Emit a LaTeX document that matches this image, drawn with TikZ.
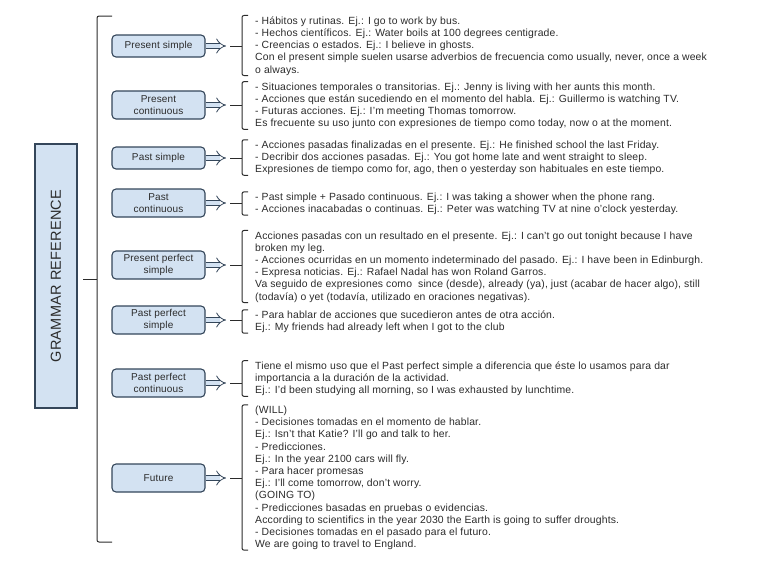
\documentclass[tikz,border=0pt]{standalone}
\usepackage{fontspec}
\setmainfont{Liberation Sans}[LetterSpace=1.5]
\usepackage{xcolor}
\usetikzlibrary{arrows.meta,positioning,calc}

\definecolor{boxblue}{HTML}{D3E2F2}
\definecolor{edgegray}{HTML}{34465A}
\definecolor{inkgray}{HTML}{2B2B2B}

\begin{document}
\begin{tikzpicture}[x=1pt,y=-1pt,
    tense/.style={draw=edgegray, fill=boxblue, rounded corners=4pt, line width=1.1pt,
      minimum width=93pt, minimum height=28pt, align=center, inner sep=1pt,
      text=inkgray, font=\fontsize{10}{12}\selectfont},
    notes/.style={anchor=west, align=left, inner sep=0pt, text=inkgray,
      font=\fontsize{10.4}{12.2}\selectfont},
    brace/.style={draw=inkgray, line width=1pt, rounded corners=2pt},
    fatarrow/.style={draw=edgegray, line width=0.8pt, double=boxblue,
      double distance=4.5pt, -{Implies}}]
  \useasboundingbox (0,0) rectangle (768,576);

  % title and main bracket
  \node[draw=edgegray, fill=boxblue, line width=1.1pt, rotate=90, minimum width=264pt,
    minimum height=42pt, text=inkgray, font=\fontsize{14.5}{16}\selectfont] (gr) at (56,276) {GRAMMAR REFERENCE};
  \coordinate (top) at (97,16);
  \coordinate (bot) at (97,542);
  \draw[brace] ($(top)+(15,0)$) -- (top) -- (bot) -- ($(bot)+(15,0)$);
  \draw[brace] (83,279) -- (97,279);

  % tenses
  \node[tense, minimum height=22pt] (b1) at (158.5,46) {Present simple};
  \node[tense] (b2) at (158.5,105) {Present\\continuous};
  \node[tense, minimum height=22pt] (b3) at (158.5,158) {Past simple};
  \node[tense] (b4) at (158.5,203) {Past\\continuous};
  \node[tense] (b5) at (158.5,265) {Present perfect\\simple};
  \node[tense] (b6) at (158.5,320) {Past perfect\\simple};
  \node[tense] (b7) at (158.5,383) {Past perfect\\continuous};
  \node[tense] (b8) at (158.5,478) {Future};

  % notes
  \node[notes] (t1) at (255,46) {- Hábitos y rutinas. Ej.: I go to work by bus.\\
    - Hechos científicos. Ej.: Water boils at 100 degrees centigrade.\\
    - Creencias o estados. Ej.: I believe in ghosts.\\
    Con el present simple suelen usarse adverbios de frecuencia como usually, never, once a week\\
    o always.};
  \node[notes] (t2) at (255,106) {- Situaciones temporales o transitorias. Ej.: Jenny is living with her aunts this month.\\
    - Acciones que están sucediendo en el momento del habla. Ej.: Guillermo is watching TV.\\
    - Futuras acciones. Ej.: I'm meeting Thomas tomorrow.\\
    Es frecuente su uso junto con expresiones de tiempo como today, now o at the moment.};
  \node[notes] (t3) at (255,158) {- Acciones pasadas finalizadas en el presente. Ej.: He finished school the last Friday.\\
    - Decribir dos acciones pasadas. Ej.: You got home late and went straight to sleep.\\
    Expresiones de tiempo como for, ago, then o yesterday son habituales en este tiempo.};
  \node[notes] (t4) at (255,204) {- Past simple + Pasado continuous. Ej.: I was taking a shower when the phone rang.\\
    - Acciones inacabadas o continuas. Ej.: Peter was watching TV at nine o'clock yesterday.};
  \node[notes] (t5) at (255,267) {Acciones pasadas con un resultado en el presente. Ej.: I can't go out tonight because I have\\
    broken my leg.\\
    - Acciones ocurridas en un momento indeterminado del pasado. Ej.: I have been in Edinburgh.\\
    - Expresa noticias. Ej.: Rafael Nadal has won Roland Garros.\\
    Va seguido de expresiones como\ \ since (desde), already (ya), just (acabar de hacer algo), still\\
    (todavía) o yet (todavía, utilizado en oraciones negativas).};
  \node[notes] (t6) at (255,322) {- Para hablar de acciones que sucedieron antes de otra acción.\\
    Ej.: My friends had already left when I got to the club};
  \node[notes] (t7) at (255,379) {Tiene el mismo uso que el Past perfect simple a diferencia que éste lo usamos para dar\\
    importancia a la duración de la actividad.\\
    Ej.: I'd been studying all morning, so I was exhausted by lunchtime.};
  \node[notes] (t8) at (255,478) {(WILL)\\
    - Decisiones tomadas en el momento de hablar.\\
    Ej.: Isn't that Katie? I'll go and talk to her.\\
    - Predicciones.\\
    Ej.: In the year 2100 cars will fly.\\
    - Para hacer promesas\\
    Ej.: I'll come tomorrow, don't worry.\\
    (GOING TO)\\
    - Predicciones basadas en pruebas o evidencias.\\
    According to scientifics in the year 2030 the Earth is going to suffer droughts.\\
    - Decisiones tomadas en el pasado para el futuro.\\
    We are going to travel to England.};

  % arrows and braces
  \foreach \n in {1,...,8} {
    \coordinate (a\n) at ([xshift=-29pt]t\n.west |- b\n.east);
    \draw[fatarrow] (b\n) -- (a\n);
    \draw[brace] ([xshift=-7pt,yshift=1pt]t\n.north west) -- ([xshift=-13pt,yshift=1pt]t\n.north west)
      -- ([xshift=-13pt]t\n.south west) -- ([xshift=-7pt]t\n.south west);
    \draw[brace] ([xshift=-25pt]t\n.west |- b\n.east) -- ([xshift=-13pt]t\n.west |- b\n.east);
  }
\end{tikzpicture}
\end{document}
